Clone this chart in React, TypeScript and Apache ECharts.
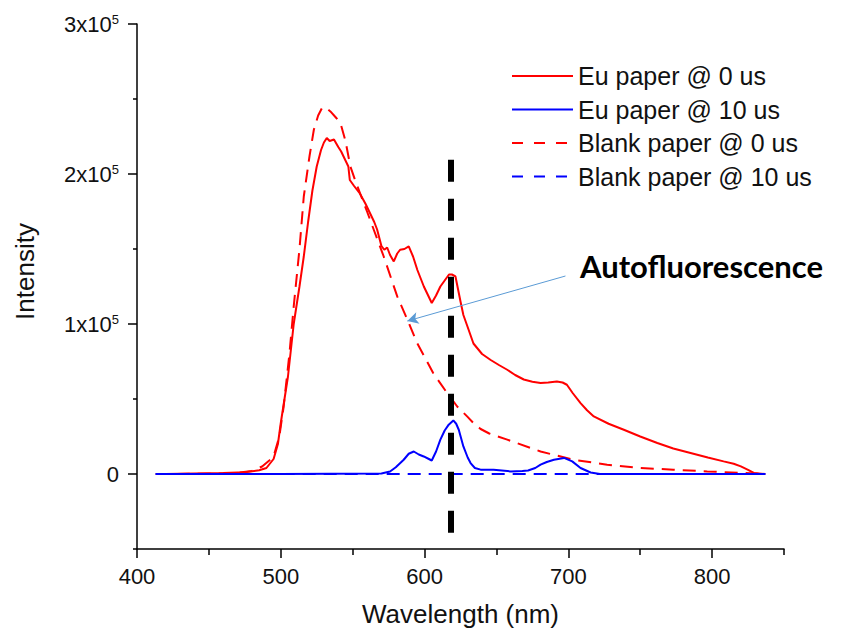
import React, { useEffect, useRef } from 'react';
import * as echarts from 'echarts';

// ---- Data ----
const seriesNames = ['Eu paper @ 0 us', 'Eu paper @ 10 us', 'Blank paper @ 0 us', 'Blank paper @ 10 us'];

const euPaper0usWavelength = [
  420, 440, 460, 475, 485, 490, 495, 498, 500, 505, 509, 513, 516, 519, 522, 525, 528, 530, 532, 534,
  537, 540, 542, 545, 547, 548, 551, 555, 559, 562, 565, 567, 570, 572, 574, 576, 578.6, 581, 583, 586,
  589, 592, 595, 599.5, 602, 605, 608, 611, 614, 617, 619, 621.5, 625, 627, 629.6, 634, 640, 646, 652,
  657.5, 663, 669, 675, 680.7, 686, 692, 696, 699, 703, 708.5, 713, 717.7, 728, 738.6, 750, 761.9, 773,
  785, 797, 808, 815, 820, 825, 829, 837,
];
const euPaper0usIntensity = [
  0, 300, 600, 1200, 2500, 4000, 10000, 20000, 34000, 65000, 100000, 125000, 145000, 168000, 189000, 205000, 216000, 221000, 224000, 222000,
  223000, 218000, 215000, 209000, 205000, 196000, 192000, 187000, 180000, 174000, 168000, 163000, 152000, 149500, 151000, 146000, 141700, 147000, 149500, 150000,
  151700, 145000, 136000, 125000, 120000, 114000, 119000, 125000, 129000, 133000, 133000, 131700, 115000, 106000, 99000, 87000, 80000, 76000, 72500,
  69500, 66000, 63000, 61500, 60700, 61000, 61700, 61000, 59500, 54000, 47300, 42500, 38400, 33500, 29500, 25000, 20700, 17000,
  14000, 11000, 8400, 6800, 5100, 2800, 700, 0,
];

const euPaper10usWavelength = [
  413, 500, 570, 576, 580, 585.5, 589, 592.5, 596, 599.4, 603, 605, 608, 611, 614, 616.8, 620, 622, 623.8, 627,
  630, 632, 635, 639, 648, 660, 668, 672, 677, 680.7, 685, 690, 697, 702.7, 708.5, 715.5, 722, 837,
];
const euPaper10usIntensity = [
  0, 0, 300, 1700, 4500, 9500, 13500, 15000, 13000, 11700, 10000, 9000, 15000, 22900, 29000, 32900, 35700, 33500, 29500, 18400,
  11000, 7300, 4000, 2900, 2900, 1700, 2000, 2300, 4000, 6200, 8000, 9500, 10700, 8400, 4000, 1000, 0, 0,
];

const blank0usWavelength = [
  413, 450, 470, 480, 487, 492, 495, 499, 502, 506, 509, 513, 516, 520, 523, 526, 528.7, 531, 534.5, 538,
  541.5, 545, 548.4, 552, 556, 560, 565, 571.6, 581, 588, 594.8, 606, 615.7, 622.7, 629.6, 634, 639, 645,
  657.5, 680.7, 703.8, 727, 750, 773, 796.6, 820, 837,
];
const blank0usIntensity = [
  0, 200, 800, 2000, 5000, 9000, 11700, 25000, 45000, 80000, 111700, 150000, 185000, 212000, 229500, 239000, 244000, 244500, 241700, 238000,
  234000, 222000, 205000, 195000, 185000, 175000, 162000, 145000, 118400, 103000, 87300, 67300, 54000, 45000, 38400, 34000, 30000, 27000,
  22900, 15000, 9500, 6200, 4000, 2900, 1700, 800, 0,
];

const blank10usWavelength = [413, 600, 837];
const blank10usIntensity = [0, 0, 0];

const xMajorTicks = [400, 500, 600, 700, 800];
const xMinorTicks = [450, 550, 650, 750, 850];
const yMajorTicks = [0, 100000, 200000, 300000];
const yMinorTicks = [-50000, 50000, 150000, 250000];

const markerWavelength = 618;
const markerIntensityRange = [209500, -43000];
const arrowFrom = [698, 132000];
const arrowTo = [588, 102000];
const annotationText = 'Autofluorescence';

const zip = (xs: number[], ys: number[]) => xs.map((x, i) => [x, ys[i]]);

const FONT = '"Liberation Sans", Arial, sans-serif';
const TEXT = '#111111';
const DASH = [13, 8];
const LEGEND_DASH = [11, 11];

export default function App() {
  const ref = useRef<HTMLDivElement>(null);

  useEffect(() => {
    if (!ref.current) return;
    const chart = echarts.init(ref.current, undefined, { renderer: 'svg' });

    const axisLine = { show: true, onZero: false, lineStyle: { color: '#000', width: 1.5 } };

    const option: any = {
      animation: false,
      backgroundColor: '#ffffff',
      grid: { left: 137, right: 61, top: 24, bottom: 85, containLabel: false, outerBoundsMode: 'none' },
      legend: {
        orient: 'vertical',
        left: 506,
        top: 58,
        itemWidth: 61,
        itemHeight: 14,
        itemGap: 7.5,
        data: [
          { name: seriesNames[0] },
          { name: seriesNames[1] },
          { name: seriesNames[2], lineStyle: { type: LEGEND_DASH } },
          { name: seriesNames[3], lineStyle: { type: LEGEND_DASH } },
        ],
        itemStyle: { color: 'rgba(0,0,0,0)', borderWidth: 0, opacity: 0 },
        textStyle: { fontFamily: FONT, fontSize: 25, color: TEXT, lineHeight: 26, padding: [0, 0, 0, 0] },
      },
      xAxis: [
        {
          type: 'value',
          min: 400,
          max: 850,
          position: 'bottom',
          name: 'Wavelength (nm)',
          nameLocation: 'middle',
          nameGap: 52,
          nameTextStyle: { fontFamily: FONT, fontSize: 26, color: TEXT },
          axisLine,
          axisTick: { show: true, inside: false, length: 9, customValues: xMajorTicks, lineStyle: { color: '#000', width: 1.5 } },
          axisLabel: { show: true, customValues: xMajorTicks, margin: 16, fontFamily: FONT, fontSize: 22, color: TEXT },
          splitLine: { show: false },
        },
        {
          type: 'value',
          min: 400,
          max: 850,
          position: 'bottom',
          axisLine: { show: false, onZero: false },
          axisTick: { show: true, inside: false, length: 6, customValues: xMinorTicks, lineStyle: { color: '#000', width: 1.5 } },
          axisLabel: { show: false },
          splitLine: { show: false },
        },
      ],
      yAxis: [
        {
          type: 'value',
          min: -50000,
          max: 300000,
          position: 'left',
          name: 'Intensity',
          nameLocation: 'middle',
          nameGap: 99,
          nameRotate: 90,
          nameTextStyle: { fontFamily: FONT, fontSize: 26, color: TEXT, padding: [0, 0, 0, 30] },
          axisLine,
          axisTick: { show: true, inside: false, length: 9, customValues: yMajorTicks, lineStyle: { color: '#000', width: 1.5 } },
          axisLabel: {
            show: true,
            customValues: yMajorTicks,
            margin: 18,
            formatter: (v: number) => (v === 0 ? '{n|0}' : `{n|${Math.round(v / 100000)}x10}{s|5}`),
            rich: {
              n: { fontFamily: FONT, fontSize: 22, color: TEXT, lineHeight: 22 },
              s: { fontFamily: FONT, fontSize: 13, color: TEXT, verticalAlign: 'top', lineHeight: 13 },
            },
          },
          splitLine: { show: false },
        },
        {
          type: 'value',
          min: -50000,
          max: 300000,
          position: 'left',
          axisLine: { show: false, onZero: false },
          axisTick: { show: true, inside: false, length: 4, customValues: yMinorTicks, lineStyle: { color: '#000', width: 1.5 } },
          axisLabel: { show: false },
          splitLine: { show: false },
        },
      ],
      series: [
        {
          name: seriesNames[0],
          type: 'line',
          data: zip(euPaper0usWavelength, euPaper0usIntensity),
          showSymbol: false,
          symbol: 'none',
          lineStyle: { color: '#ff0000', width: 2, type: 'solid' },
          itemStyle: { color: '#ff0000' },
          z: 2,
        },
        {
          name: seriesNames[2],
          type: 'line',
          data: zip(blank0usWavelength, blank0usIntensity),
          showSymbol: false,
          symbol: 'none',
          lineStyle: { color: '#ff0000', width: 2, type: DASH },
          itemStyle: { color: '#ff0000' },
          z: 2,
          markLine: {
            silent: true,
            symbol: ['none', 'arrow'],
            symbolSize: [9, 11],
            label: { show: false },
            lineStyle: { color: '#5b9bd5', width: 1, type: 'solid' },
            data: [[{ coord: arrowFrom }, { coord: arrowTo }]],
          },
        },
        {
          name: seriesNames[3],
          type: 'line',
          data: zip(blank10usWavelength, blank10usIntensity),
          showSymbol: false,
          symbol: 'none',
          lineStyle: { color: '#0000ff', width: 2, type: DASH },
          itemStyle: { color: '#0000ff' },
          z: 3,
        },
        {
          name: seriesNames[1],
          type: 'line',
          data: zip(euPaper10usWavelength, euPaper10usIntensity),
          showSymbol: false,
          symbol: 'none',
          lineStyle: { color: '#0000ff', width: 2, type: 'solid' },
          itemStyle: { color: '#0000ff' },
          z: 3,
          markLine: {
            silent: true,
            symbol: ['none', 'none'],
            label: { show: false },
            lineStyle: { color: '#000000', width: 6, type: [22, 17] },
            data: [[
              { coord: [markerWavelength, markerIntensityRange[0]] },
              { coord: [markerWavelength, markerIntensityRange[1]] },
            ]],
          },
        },
      ],
      graphic: [
        {
          type: 'text',
          left: 580,
          top: 250,
          z: 10,
          style: {
            text: annotationText,
            font: 'bold 31px Lato, "Open Sans", sans-serif',
            fill: '#000000',
          },
        },
      ],
    };

    chart.setOption(option);
    return () => chart.dispose();
  }, []);

  return (
    <div
      ref={ref}
      style={{ position: 'absolute', left: 0, top: 0, width: 845, height: 634, background: '#fff' }}
    />
  );
}
